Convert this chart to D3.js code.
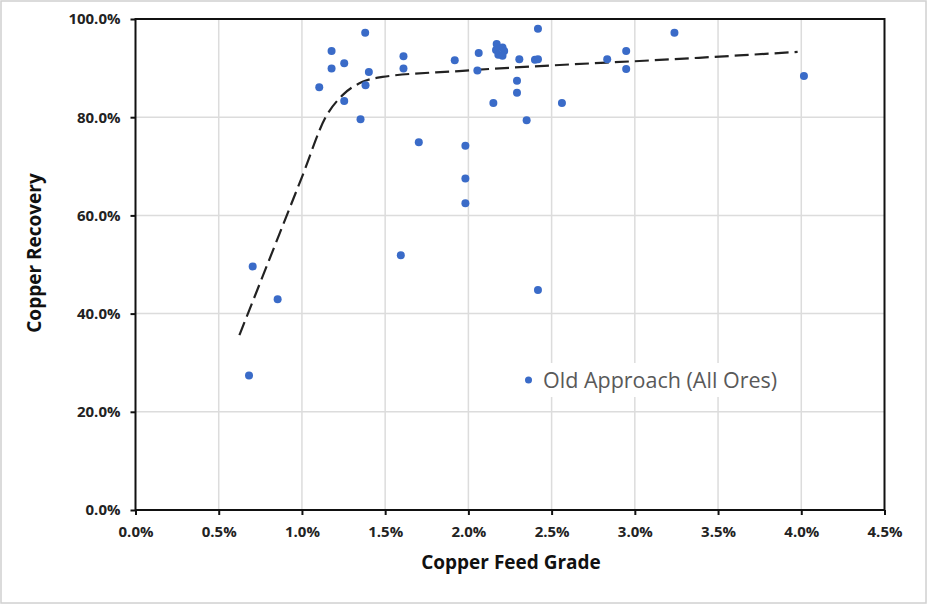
<!DOCTYPE html>
<html>
<head>
<meta charset="utf-8">
<script src="https://cdn.jsdelivr.net/npm/d3@7"></script>
<style>
  html, body { margin: 0; padding: 0; background: #fff; }
  svg { display: block; }
  text { font-family: "Open Sans", sans-serif; }
</style>
</head>
<body>
<svg id="chart" width="928" height="605"></svg>
<script>
// Copper feed grade (%) for each sample
const feedGrade = [0.682, 0.704, 0.854, 1.104, 1.178, 1.178, 1.254, 1.254, 1.352, 1.380,
  1.382, 1.402, 1.594, 1.610, 1.610, 1.702, 1.918, 1.982, 1.982, 1.982,
  2.054, 2.062, 2.150, 2.170, 2.205, 2.166, 2.215, 2.180, 2.205, 2.292,
  2.292, 2.306, 2.350, 2.400, 2.418, 2.418, 2.418, 2.562, 2.834, 2.948,
  2.948, 3.238, 4.016];
// Copper recovery (%) for each sample
const recovery = [27.4, 49.6, 42.9, 86.1, 93.5, 89.9, 91.0, 83.3, 79.6, 97.2,
  86.5, 89.2, 51.9, 92.4, 89.9, 74.9, 91.6, 74.2, 67.5, 62.5,
  89.5, 93.1, 82.9, 94.9, 94.2, 93.7, 93.5, 92.7, 92.5, 87.4,
  85.0, 91.8, 79.4, 91.7, 91.8, 98.0, 44.8, 82.9, 91.8, 93.5,
  89.8, 97.2, 88.4];
// Dashed trend curve
const trendGrade = [0.624, 0.784, 1.0, 1.144, 1.244, 1.364, 1.484, 1.944, 3.384, 3.978];
const trendRecovery = [35.6, 49.3, 67.8, 80.1, 84.5, 87.2, 88.2, 89.4, 92.1, 93.3];
// Tick values
const xTicks = [0, 0.5, 1.0, 1.5, 2.0, 2.5, 3.0, 3.5, 4.0, 4.5];
const yTicks = [0, 20, 40, 60, 80, 100];
const seriesName = "Old Approach (All Ores)";
const xTitle = "Copper Feed Grade";
const yTitle = "Copper Recovery";

const svg = d3.select("#chart");
const W = 928, H = 605;
const plot = { left: 135.5, right: 884.5, top: 19, bottom: 510 };

const x = d3.scaleLinear().domain([0, 4.5]).range([plot.left, plot.right]);
const y = d3.scaleLinear().domain([0, 100]).range([plot.bottom, plot.top]);

// outer chart border
svg.append("rect").attr("x", 1).attr("y", 1).attr("width", W - 3).attr("height", H - 3)
  .attr("fill", "#fff").attr("stroke", "#d0d0d0").attr("stroke-width", 1.5);

// gridlines
svg.append("g").selectAll("line").data(xTicks.slice(1, -1)).join("line")
  .attr("x1", d => x(d)).attr("x2", d => x(d))
  .attr("y1", plot.top).attr("y2", plot.bottom)
  .attr("stroke", "#dcdcdc").attr("stroke-width", 1.5);
svg.append("g").selectAll("line").data(yTicks.slice(1, -1)).join("line")
  .attr("y1", d => y(d)).attr("y2", d => y(d))
  .attr("x1", plot.left).attr("x2", plot.right)
  .attr("stroke", "#dcdcdc").attr("stroke-width", 1.5);

// legend background (covers gridlines)
svg.append("rect").attr("x", 517).attr("y", 363).attr("width", 274).attr("height", 34)
  .attr("fill", "#fff");

// axes
const xAxis = d3.axisBottom(x).tickValues(xTicks).tickSize(5).tickPadding(11)
  .tickFormat(d => d.toFixed(1) + "%");
const yAxis = d3.axisLeft(y).tickValues(yTicks).tickSize(5).tickPadding(10)
  .tickFormat(d => d.toFixed(1) + "%");

const gx = svg.append("g").attr("transform", `translate(0,${plot.bottom})`).call(xAxis);
const gy = svg.append("g").attr("transform", `translate(${plot.left},0)`).call(yAxis);
[gx, gy].forEach(g => {
  g.select(".domain").remove();
  g.selectAll(".tick line").attr("stroke", "#111").attr("stroke-width", 2);
  g.selectAll(".tick text").attr("fill", "#222").attr("font-size", 15)
    .attr("font-weight", 700).attr("font-family", "'Open Sans', sans-serif");
});

// plot frame
svg.append("rect").attr("x", plot.left).attr("y", plot.top)
  .attr("width", plot.right - plot.left).attr("height", plot.bottom - plot.top)
  .attr("fill", "none").attr("stroke", "#111").attr("stroke-width", 2);

// trend line
const trend = trendGrade.map((g, i) => [g, trendRecovery[i]]);
svg.append("path").datum(trend)
  .attr("d", d3.line().x(d => x(d[0])).y(d => y(d[1])).curve(d3.curveMonotoneX))
  .attr("fill", "none").attr("stroke", "#222").attr("stroke-width", 2.2)
  .attr("stroke-dasharray", "14,6");

// points
const pts = feedGrade.map((g, i) => [g, recovery[i]]);
svg.append("g").selectAll("circle").data(pts).join("circle")
  .attr("cx", d => x(d[0])).attr("cy", d => y(d[1])).attr("r", 4)
  .attr("fill", "#3a6bc8");

// legend
svg.append("circle").attr("cx", 528.5).attr("cy", 380).attr("r", 3.5).attr("fill", "#3a6bc8");
svg.append("text").attr("x", 543).attr("y", 387.5).attr("font-size", 21.5)
  .attr("fill", "#595959").text(seriesName);

// axis titles
svg.append("text").attr("x", 511).attr("y", 569)
  .attr("text-anchor", "middle").attr("font-size", 19).attr("font-weight", 700)
  .attr("fill", "#111").text(xTitle);
svg.append("text").attr("transform", "translate(41,253) rotate(-90)")
  .attr("text-anchor", "middle").attr("font-size", 19).attr("font-weight", 700)
  .attr("fill", "#111").text(yTitle);
</script>
</body>
</html>
